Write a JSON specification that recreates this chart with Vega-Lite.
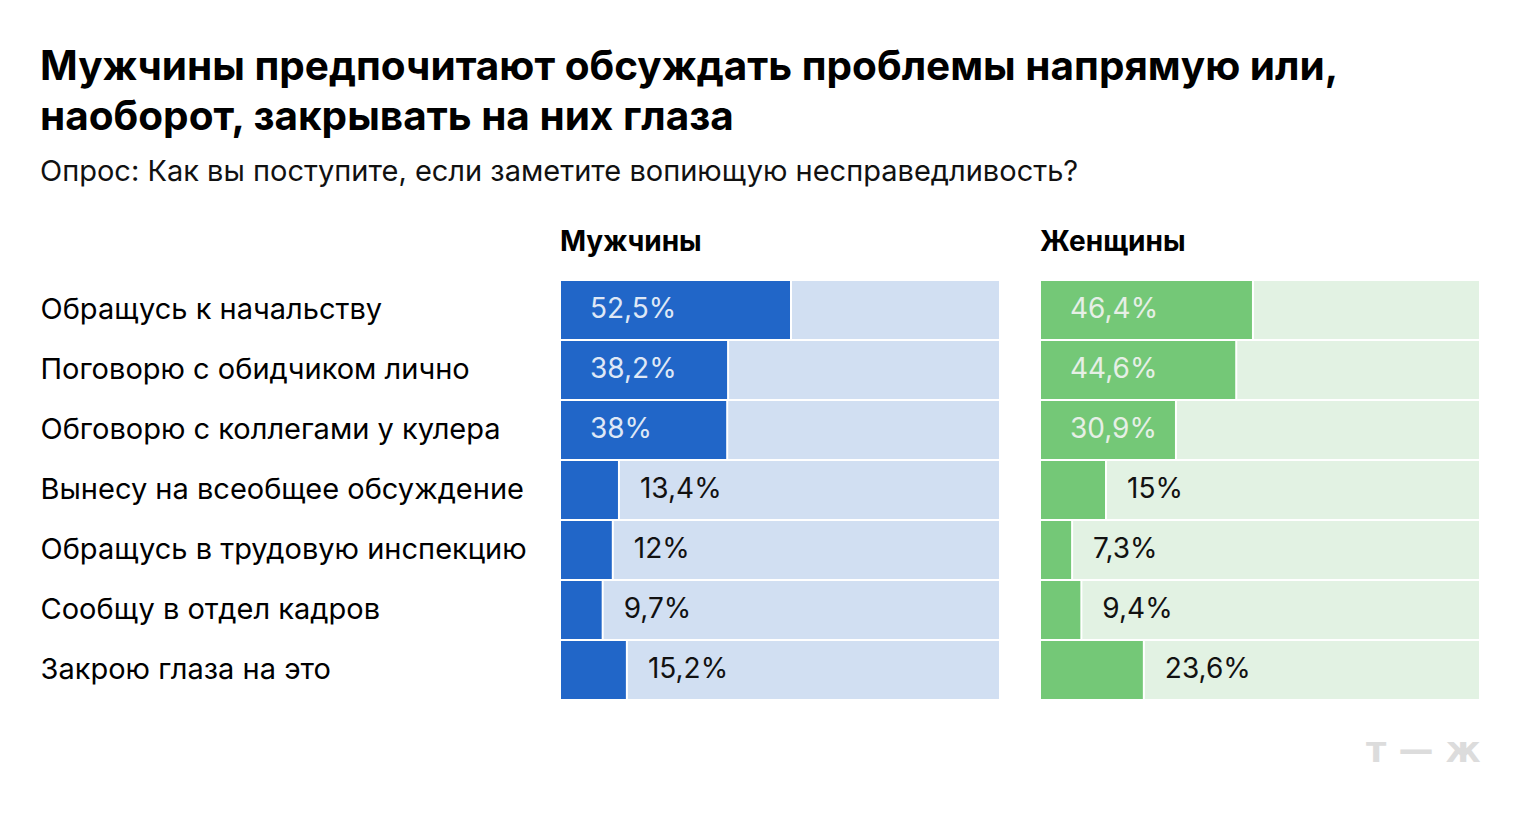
{
  "$schema": "https://vega.github.io/schema/vega-lite/v6.json",
  "background": "white",
  "padding": {"left": 40, "top": 47, "right": 40, "bottom": 20},
  "title": {
    "text": ["Мужчины предпочитают обсуждать проблемы напрямую или,", "наоборот, закрывать на них глаза"],
    "subtitle": "Опрос: Как вы поступите, если заметите вопиющую несправедливость?",
    "anchor": "start",
    "frame": "bounds",
    "font": "Inter",
    "fontSize": 40.5,
    "fontWeight": 700,
    "lineHeight": 50,
    "color": "#000000",
    "subtitleFont": "Inter",
    "subtitleFontSize": 29,
    "subtitleColor": "#111111",
    "subtitlePadding": 20,
    "offset": 42
  },
  "config": {
    "view": {"stroke": null},
    "concat": {"spacing": 38}
  },
  "data": {
    "values": [
      {"gender": "Мужчины", "answer": "Обращусь к начальству", "value": 52.5, "label": "52,5%"},
      {"gender": "Мужчины", "answer": "Поговорю с обидчиком лично", "value": 38.2, "label": "38,2%"},
      {"gender": "Мужчины", "answer": "Обговорю с коллегами у кулера", "value": 38, "label": "38%"},
      {"gender": "Мужчины", "answer": "Вынесу на всеобщее обсуждение", "value": 13.4, "label": "13,4%"},
      {"gender": "Мужчины", "answer": "Обращусь в трудовую инспекцию", "value": 12, "label": "12%"},
      {"gender": "Мужчины", "answer": "Сообщу в отдел кадров", "value": 9.7, "label": "9,7%"},
      {"gender": "Мужчины", "answer": "Закрою глаза на это", "value": 15.2, "label": "15,2%"},
      {"gender": "Женщины", "answer": "Обращусь к начальству", "value": 48.4, "label": "46,4%"},
      {"gender": "Женщины", "answer": "Поговорю с обидчиком лично", "value": 44.6, "label": "44,6%"},
      {"gender": "Женщины", "answer": "Обговорю с коллегами у кулера", "value": 30.9, "label": "30,9%"},
      {"gender": "Женщины", "answer": "Вынесу на всеобщее обсуждение", "value": 15, "label": "15%"},
      {"gender": "Женщины", "answer": "Обращусь в трудовую инспекцию", "value": 7.3, "label": "7,3%"},
      {"gender": "Женщины", "answer": "Сообщу в отдел кадров", "value": 9.4, "label": "9,4%"},
      {"gender": "Женщины", "answer": "Закрою глаза на это", "value": 23.6, "label": "23,6%"}
    ]
  },
  "hconcat": [
    {
      "width": 440,
      "height": 420,
      "title": {"text": "Мужчины", "anchor": "start", "frame": "group", "font": "Inter", "fontSize": 28, "fontWeight": 700, "color": "#000000", "offset": 22},
      "transform": [{"filter": "datum.gender === 'Мужчины'"}],
      "encoding": {
        "y": {
          "field": "answer", "type": "nominal", "sort": null,
          "scale": {"paddingInner": 0, "paddingOuter": 0},
          "axis": {"title": null, "domain": false, "ticks": false, "tickSize": 0, "labelAlign": "left", "labelPadding": 520, "labelFont": "Inter", "labelFontSize": 29, "labelColor": "#000000", "labelLimit": 600}
        }
      },
      "layer": [
        {
          "mark": {"type": "bar", "color": "#d1dff2", "stroke": "white", "strokeWidth": 2},
          "encoding": {
            "x": {"datum": 0, "type": "quantitative", "scale": {"domain": [0, 100]}, "axis": null},
            "x2": {"datum": 100}
          }
        },
        {
          "mark": {"type": "bar", "color": "#2166c8", "stroke": "white", "strokeWidth": 2},
          "encoding": {
            "x": {"field": "value", "type": "quantitative", "scale": {"domain": [0, 100]}, "axis": null}
          }
        },
        {
          "transform": [{"filter": "datum.value >= 30"}],
          "mark": {"type": "text", "align": "left", "baseline": "middle", "dx": 30, "font": "Inter", "fontSize": 28, "color": "#dfe8f6"},
          "encoding": {
            "x": {"datum": 0, "type": "quantitative", "scale": {"domain": [0, 100]}, "axis": null},
            "text": {"field": "label"}
          }
        },
        {
          "transform": [{"filter": "datum.value < 30"}],
          "mark": {"type": "text", "align": "left", "baseline": "middle", "dx": 21, "font": "Inter", "fontSize": 28, "color": "#111111"},
          "encoding": {
            "x": {"field": "value", "type": "quantitative", "scale": {"domain": [0, 100]}, "axis": null},
            "text": {"field": "label"}
          }
        }
      ]
    },
    {
      "width": 440,
      "height": 420,
      "title": {"text": "Женщины", "anchor": "start", "frame": "group", "font": "Inter", "fontSize": 28, "fontWeight": 700, "color": "#000000", "offset": 22},
      "transform": [{"filter": "datum.gender === 'Женщины'"}],
      "encoding": {
        "y": {
          "field": "answer", "type": "nominal", "sort": null,
          "scale": {"paddingInner": 0, "paddingOuter": 0},
          "axis": null
        }
      },
      "layer": [
        {
          "mark": {"type": "bar", "color": "#e2f2e3", "stroke": "white", "strokeWidth": 2},
          "encoding": {
            "x": {"datum": 0, "type": "quantitative", "scale": {"domain": [0, 100]},
              "axis": {"title": "т — ж", "labels": false, "ticks": false, "domain": false, "grid": false, "titleAnchor": "end", "titleFont": "DejaVu Sans", "titleFontSize": 35, "titleFontWeight": "bold", "titleColor": "#dcdcdc", "titlePadding": 33}},
            "x2": {"datum": 100}
          }
        },
        {
          "mark": {"type": "bar", "color": "#74c877", "stroke": "white", "strokeWidth": 2},
          "encoding": {
            "x": {"field": "value", "type": "quantitative", "scale": {"domain": [0, 100]},
              "axis": {"title": "т — ж", "labels": false, "ticks": false, "domain": false, "grid": false, "titleAnchor": "end", "titleFont": "DejaVu Sans", "titleFontSize": 35, "titleFontWeight": "bold", "titleColor": "#dcdcdc", "titlePadding": 33}}
          }
        },
        {
          "transform": [{"filter": "datum.value >= 30"}],
          "mark": {"type": "text", "align": "left", "baseline": "middle", "dx": 30, "font": "Inter", "fontSize": 28, "color": "#e6efe6"},
          "encoding": {
            "x": {"datum": 0, "type": "quantitative", "scale": {"domain": [0, 100]},
              "axis": {"title": "т — ж", "labels": false, "ticks": false, "domain": false, "grid": false, "titleAnchor": "end", "titleFont": "DejaVu Sans", "titleFontSize": 35, "titleFontWeight": "bold", "titleColor": "#dcdcdc", "titlePadding": 33}},
            "text": {"field": "label"}
          }
        },
        {
          "transform": [{"filter": "datum.value < 30"}],
          "mark": {"type": "text", "align": "left", "baseline": "middle", "dx": 21, "font": "Inter", "fontSize": 28, "color": "#111111"},
          "encoding": {
            "x": {"field": "value", "type": "quantitative", "scale": {"domain": [0, 100]},
              "axis": {"title": "т — ж", "labels": false, "ticks": false, "domain": false, "grid": false, "titleAnchor": "end", "titleFont": "DejaVu Sans", "titleFontSize": 35, "titleFontWeight": "bold", "titleColor": "#dcdcdc", "titlePadding": 33}},
            "text": {"field": "label"}
          }
        }
      ]
    }
  ]
}
